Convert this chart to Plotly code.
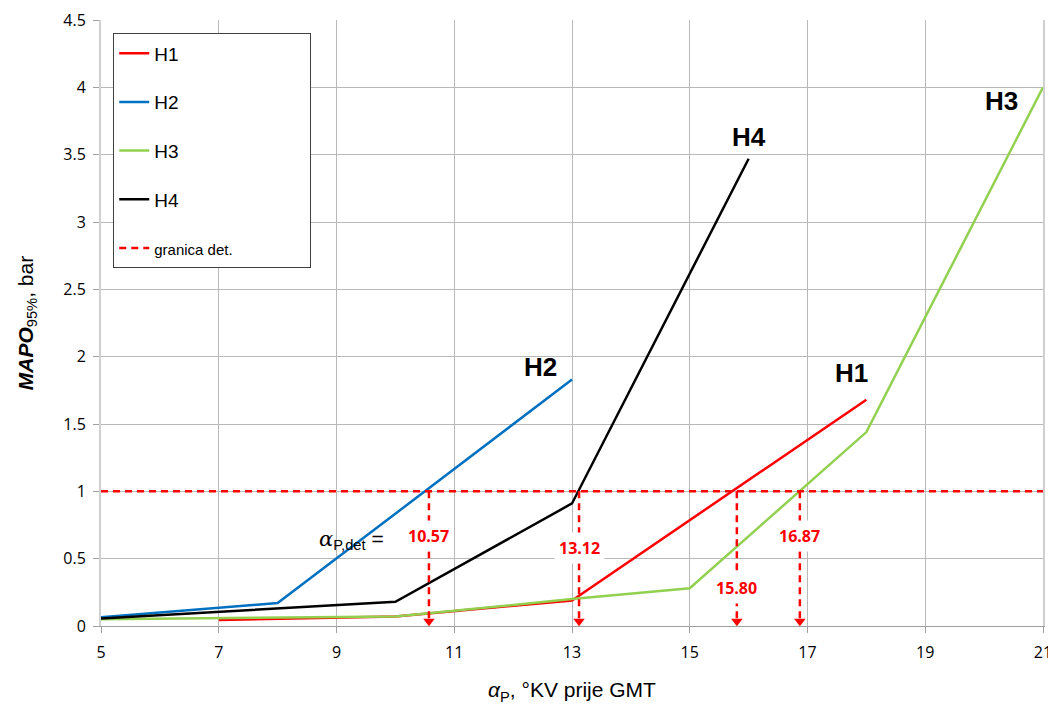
import plotly.graph_objects as go

# MAPO 95% vs ignition angle, four cases H1..H4
h1_x = [7, 10, 13, 18]
h1_y = [0.045, 0.07, 0.19, 1.68]

h2_x = [5, 8, 13]
h2_y = [0.065, 0.17, 1.83]

h3_x = [5, 10, 13, 15, 18, 21]
h3_y = [0.05, 0.07, 0.20, 0.28, 1.44, 4.0]

h4_x = [5, 10, 13, 16]
h4_y = [0.055, 0.18, 0.91, 3.47]

limit = 1.0
det_x = [10.57, 13.12, 15.80, 16.87]
det_text = ["10.57", "13.12", "15.80", "16.87"]
det_label_y = [0.67, 0.58, 0.28, 0.67]

x_ticks = [5, 7, 9, 11, 13, 15, 17, 19, 21]
y_ticks = [0, 0.5, 1, 1.5, 2, 2.5, 3, 3.5, 4, 4.5]

RED = "#ff0000"
FONT = "Liberation Sans, Arial, sans-serif"
TICKFONT = "Open Sans, sans-serif"
pad = "\u00a0" * 24

fig = go.Figure()

fig.add_trace(go.Scatter(x=h1_x, y=h1_y, mode="lines", name="H1" + pad,
                         line=dict(color=RED, width=2.5), legendgroup="1"))
fig.add_trace(go.Scatter(x=h2_x, y=h2_y, mode="lines", name="H2",
                         line=dict(color="#0070c0", width=2.5), legendgroup="2"))
fig.add_trace(go.Scatter(x=h3_x, y=h3_y, mode="lines", name="H3",
                         line=dict(color="#92d050", width=2.5), legendgroup="3"))
fig.add_trace(go.Scatter(x=h4_x, y=h4_y, mode="lines", name="H4",
                         line=dict(color="black", width=2.5), legendgroup="4"))

# detection limit
fig.add_trace(go.Scatter(x=[x_ticks[0], x_ticks[-1]], y=[limit, limit], mode="lines",
                         name="<span style='font-size:15px'>granica det.</span>",
                         line=dict(color=RED, width=2.5, dash="7px,5px"),
                         legendgroup="5"))

for v in det_x:
    fig.add_trace(go.Scatter(x=[v, v], y=[limit, 0.03], mode="lines",
                             line=dict(color=RED, width=2.5, dash="7px,5px"),
                             showlegend=False, hoverinfo="skip"))
fig.add_trace(go.Scatter(x=det_x, y=[0.035] * len(det_x), mode="markers",
                         marker=dict(symbol="triangle-down", size=10, color=RED),
                         showlegend=False, hoverinfo="skip"))

for v, t, ly in zip(det_x, det_text, det_label_y):
    fig.add_annotation(x=v, y=ly, text="<b>" + t + "</b>", showarrow=False,
                       bgcolor="white", borderpad=4,
                       font=dict(family=TICKFONT, size=16, color=RED))

fig.add_annotation(x=9.25, y=0.64,
                   text="<i><span style='font-family:DejaVu Serif'>α</span></i><sub>P,det</sub> =",
                   showarrow=False, font=dict(family=FONT, size=21, color="black"))

# curve labels
for lx, ly, t in [(17.75, 1.88, "H1"), (12.47, 1.92, "H2"), (20.3, 3.9, "H3"), (16.0, 3.63, "H4")]:
    fig.add_annotation(x=lx, y=ly, text="<b>" + t + "</b>", showarrow=False,
                       font=dict(family=FONT, size=26, color="black"))

fig.update_xaxes(range=[5, 21], tickvals=x_ticks, showgrid=True, gridcolor="#b8b8b8",
                 gridwidth=1, zeroline=False, showline=True, linecolor="#a0a0a0",
                 ticks="outside", ticklen=6, tickcolor="#a0a0a0", automargin=False,
                 ticklabelstandoff=6,
                 tickfont=dict(family=TICKFONT, size=16, color="black"),
                 title=dict(text="<i>α</i><sub>P</sub>, °KV prije GMT", standoff=20,
                            font=dict(family=FONT, size=21, color="black")))
fig.update_yaxes(range=[0, 4.5], tickvals=y_ticks, showgrid=True, gridcolor="#b8b8b8",
                 gridwidth=1, zeroline=False, showline=True, linecolor="#d0d0d0",
                 linewidth=2, mirror=True, automargin=False,
                 ticks="outside", ticklen=6, tickcolor="#a0a0a0", ticklabelstandoff=4,
                 tickfont=dict(family=TICKFONT, size=16, color="black"),
                 title=dict(text="<b><i>MAPO</i></b><sub>95%</sub>, bar", standoff=24,
                            font=dict(family=FONT, size=21, color="black")))

# page body adds an 8px margin, so the figure is a bit smaller than the window
fig.update_layout(
    width=1048, height=697,
    margin=dict(l=93, r=13, t=12, b=79),
    plot_bgcolor="white", paper_bgcolor="white",
    legend=dict(x=0.013, y=0.978, xanchor="left", yanchor="top",
                bgcolor="white", bordercolor="#404040", borderwidth=1,
                tracegroupgap=21, font=dict(family=FONT, size=19, color="black")),
)

fig.write_html("out.html")
